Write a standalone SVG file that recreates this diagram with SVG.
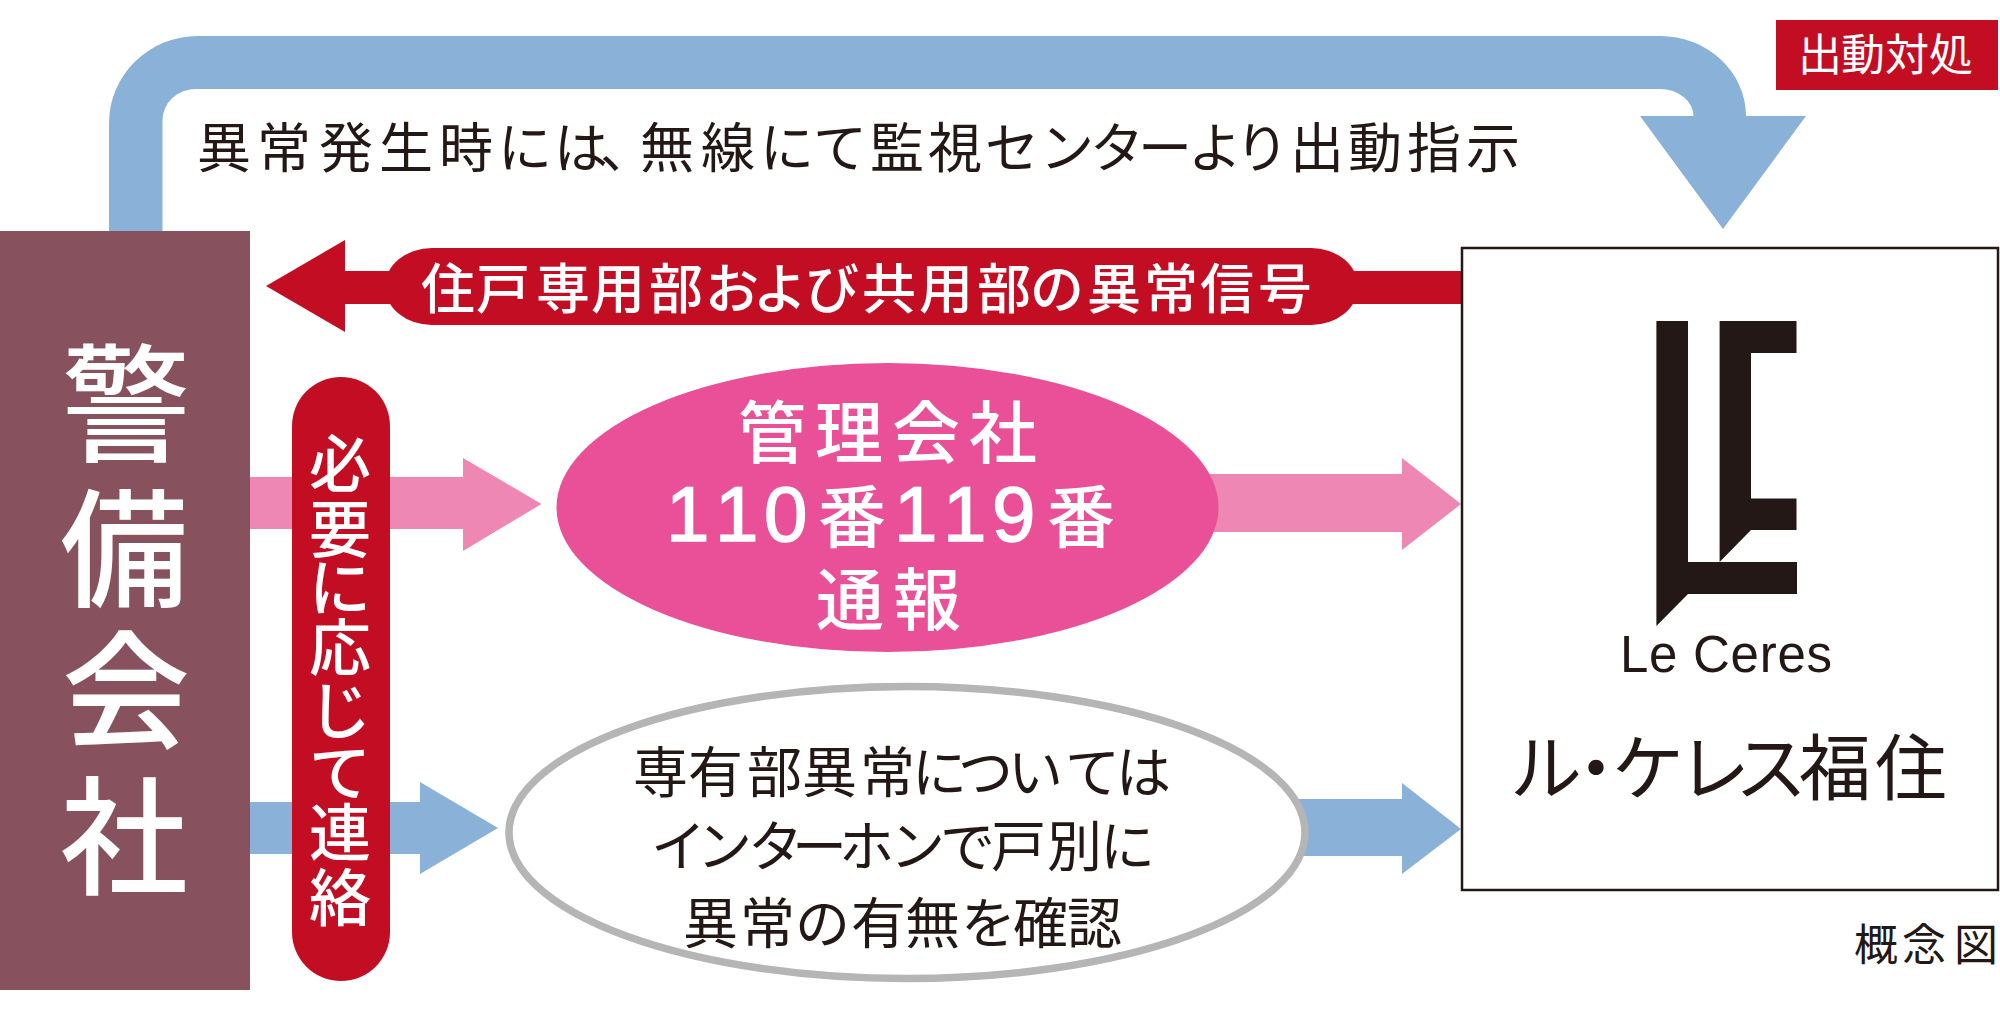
<svg xmlns="http://www.w3.org/2000/svg" width="2000" height="1011" viewBox="0 0 2000 1011">
<style>
text{font-family:"Noto Sans CJK JP","Noto Sans",sans-serif;fill:#231815}
.w{fill:#fff}
.m{font-weight:500}
.lat{font-family:"Liberation Sans",Arial,sans-serif}
.blue{fill:#8ab1d7}
.pink{fill:#ee87b4}
.red{fill:#c30d23}
</style>
<rect width="2000" height="1011" fill="#fff"/>
<g id="connectors">
<path id="dispatch-arrow" class="blue" d="M109 232V123A89 87 0 0 1 198 36H1660A86 80 0 0 1 1746 116H1806L1723 229L1640 116H1693.5A33.5 27 0 0 0 1660 89H196A33.5 31 0 0 0 162.5 120V232Z"/>
<path id="signal-arrow" class="red" d="M1462 271V304H345V332L266 286L345 240V271Z"/>
<path id="pink-left" class="pink" d="M250 477H463V458L541.5 504L463 551V529H250Z"/>
<path id="pink-right" class="pink" d="M1200 474H1402V458L1461 504L1402 550V532H1200Z"/>
<path id="blue-left" class="blue" d="M250 802H420V782L498 828L420 874V854H250Z"/>
<path id="blue-right" class="blue" d="M1280 799H1402V783L1461 829L1402 874V856H1280Z"/>
</g>
<g id="node-security">
<rect x="0" y="231" width="250" height="759" fill="#87525e"/>
<text class="w m" font-size="128" x="62 60 62 60" y="452 597 739 885">警備会社</text>
</g>
<g id="node-signal-label">
<rect class="red" x="385" y="248" width="973" height="77" rx="47" ry="38.5"/>
<text class="w m" font-size="54" y="309" x="421 476 536 591 649 705 753 805 862 919 977 1030 1087 1144 1200 1258">住戸専用部および共用部の異常信号</text>
</g>
<g id="node-contact">
<rect class="red" x="292" y="377" width="98" height="604" rx="49"/>
<text class="w m" font-size="62" x="309 309 309 309 309 309 309 309" y="487 553 611 671 734 796 856 921">必要に応じて連絡</text>
</g>
<g id="node-management">
<ellipse cx="887.5" cy="507.5" rx="331" ry="144.5" fill="#e95098"/>
<text class="w m" font-size="68"><tspan y="458" x="738 815 892 969">管理会社</tspan><tspan class="lat" font-size="78" font-weight="400" stroke="#fff" stroke-width="1.5" x="666 715 764" y="541">110</tspan><tspan x="818" y="542">番</tspan><tspan class="lat" font-size="78" font-weight="400" stroke="#fff" stroke-width="1.5" x="894 943 992" y="541">119</tspan><tspan x="1047" y="542">番</tspan><tspan y="625" x="816 893">通報</tspan></text>
</g>
<g id="node-intercom">
<ellipse cx="907" cy="832.5" rx="398" ry="146" fill="#fff" stroke="#b5b5b6" stroke-width="7.5"/>
<text font-size="55" y="792" x="633 688 747 802 860 912 958 1008 1065 1116">専有部異常については</text>
<text font-size="55" y="866" x="651 697 748 792 839 890 940 991 1047 1100">インターホンで戸別に</text>
<text font-size="55" y="943" x="683 740 795 851 905 961 1013 1067">異常の有無を確認</text>
</g>
<g id="node-building">
<rect x="1462" y="248" width="536" height="642" fill="none" stroke="#231815" stroke-width="2.5"/>
<polygon fill="#231815" points="1656.4,321 1688,321 1688,562 1797,562 1797,594 1688,594 1656.4,626"/>
<polygon fill="#231815" points="1719.6,321 1796.5,321 1796.5,353 1751,353 1751,498.5 1796.5,498.5 1796.5,530 1751,530 1719.6,562"/>
<text class="lat" font-size="51" x="1620" y="672" textLength="212">Le Ceres</text>
<text font-size="72" y="794" x="1510 1560 1612 1678 1735 1799 1875">ル・ケレス福住</text>
</g>
<g id="label-dispatch-instruction">
<text font-size="54" y="168" x="197 257 319 379 439 498 554 600 640 701 760 813 870 928 985 1040 1090 1138 1188 1235 1290 1348 1407 1466">異常発生時には、無線にて監視センターより出動指示</text>
</g>
<g id="label-dispatch">
<rect class="red" x="1776" y="20" width="222" height="70"/>
<text class="w" font-size="44" y="71" x="1798 1841 1885 1929">出動対処</text>
</g>
<g id="label-concept">
<text font-size="44" y="961" x="1854 1902 1954">概念図</text>
</g>
</svg>
